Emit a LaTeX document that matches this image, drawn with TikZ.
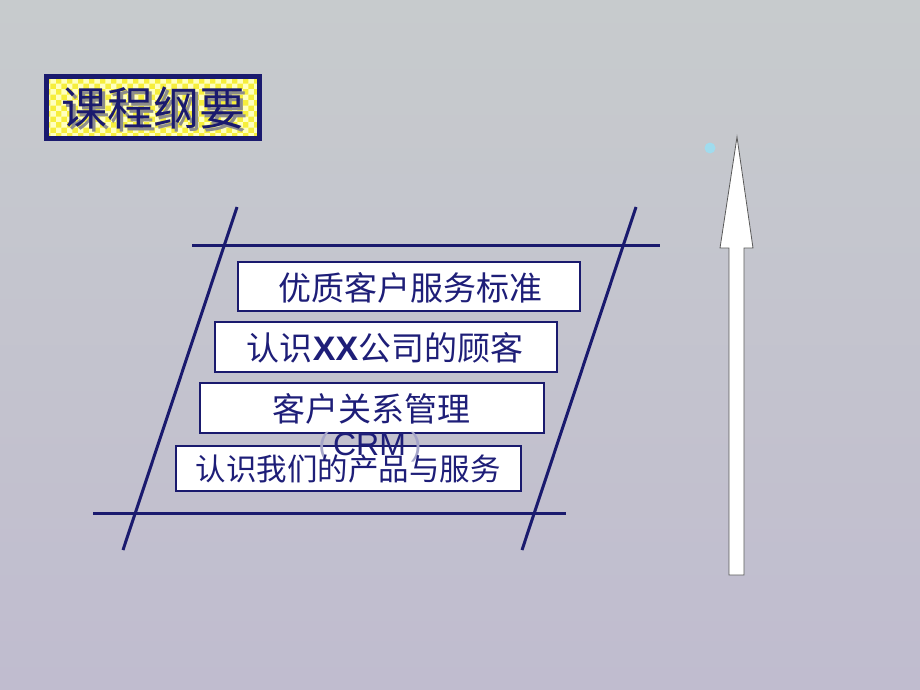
\documentclass[tikz,border=0pt]{standalone}
\usepackage{fontspec}
\newfontfamily\cjk{Noto Sans CJK SC}
\newfontfamily\latinb{Liberation Sans}
\usetikzlibrary{patterns}
\definecolor{navy}{RGB}{26,26,110}
\definecolor{textnavy}{RGB}{30,30,120}
\definecolor{bgtop}{RGB}{199,203,205}
\definecolor{bgbot}{RGB}{192,188,207}
\definecolor{titleyellow}{RGB}{246,238,60}
\definecolor{dotcyan}{RGB}{160,220,238}
\tikzset{
  rail/.style={draw=navy, line width=3pt},
  itembox/.style={draw=navy, line width=1.2pt, fill=white, inner sep=0pt},
  itemtext/.style={text=textnavy, inner sep=0pt, font=\cjk\fontsize{33}{33}\selectfont},
}
\begin{document}
\begin{tikzpicture}[x=1pt,y=-1pt]
\useasboundingbox (0,0) rectangle (920,690);
\shade[top color=bgtop, bottom color=bgbot] (0,0) rectangle (920,690);

% title
\fill[titleyellow] (46.5,76.5) rectangle (259.5,138.5);
\fill[pattern=checkerboard, pattern color=yellow!25!white] (46.5,76.5) rectangle (259.5,138.5);
\draw[navy, line width=5pt] (46.5,76.5) rectangle (259.5,138.5);
\node[text=black!45, inner sep=0pt, font=\cjk\fontsize{46}{46}\selectfont] (titleshadow) at (156.5,111) {课程纲要};
\node[text=navy, inner sep=0pt, font=\cjk\fontsize{46}{46}\selectfont] (title) at (153.5,108) {课程纲要};

% rails
\coordinate (tl) at (192,245);
\coordinate (tr) at (660,245);
\coordinate (bl) at (93,513);
\coordinate (br) at (566,513);
\coordinate (lt) at (237,207);
\coordinate (lb) at (123,550);
\coordinate (rt) at (636,207);
\coordinate (rb) at (522,550);
\draw[rail] (tl) -- (tr);
\draw[rail] (bl) -- (br);
\draw[rail] (lt) -- (lb);
\draw[rail] (rt) -- (rb);

% boxes
\node[itembox, minimum width=342pt, minimum height=49pt] (b1) at (409,286.5) {};
\node[itemtext] (t1) at (410,288) {优质客户服务标准};
\node[itembox, minimum width=342pt, minimum height=50pt] (b2) at (386,347) {};
\node[itemtext] (t2) at (385,348) {认识{\latinb\bfseries\fontsize{34}{34}\selectfont XX}公司的顾客};
\node[itembox, minimum width=344pt, minimum height=50pt] (b3) at (372,408) {};
\node[itemtext] (t3) at (371,409) {客户关系管理};
\node[itembox, minimum width=345pt, minimum height=45pt] (b4) at (348.5,468.5) {};
\node[text=textnavy, inner sep=0pt, anchor=base, font=\latinb\fontsize{32}{32}\selectfont] (crm) at (370,455) {\textcolor{textnavy!40}{(}\hspace{4pt}CRM\hspace{5pt}\textcolor{textnavy!40}{)}};
\node[itemtext, font=\cjk\fontsize{30.5}{30.5}\selectfont] (t4) at (348,469) {认识我们的产品与服务};

% arrow
\coordinate (a1) at (729,575);
\coordinate (a2) at (729,248);
\coordinate (a3) at (720,248);
\coordinate (a4) at (737,137);
\coordinate (a5) at (753,248);
\coordinate (a6) at (744,248);
\coordinate (a7) at (744,575);
\draw[fill=white, draw=black!65, line width=0.8pt, line join=miter] (a1) -- (a2) -- (a3) -- (a4) -- (a5) -- (a6) -- (a7) -- cycle;

% dot
\fill[dotcyan] (710,148) circle (5.5);
\end{tikzpicture}
\end{document}
